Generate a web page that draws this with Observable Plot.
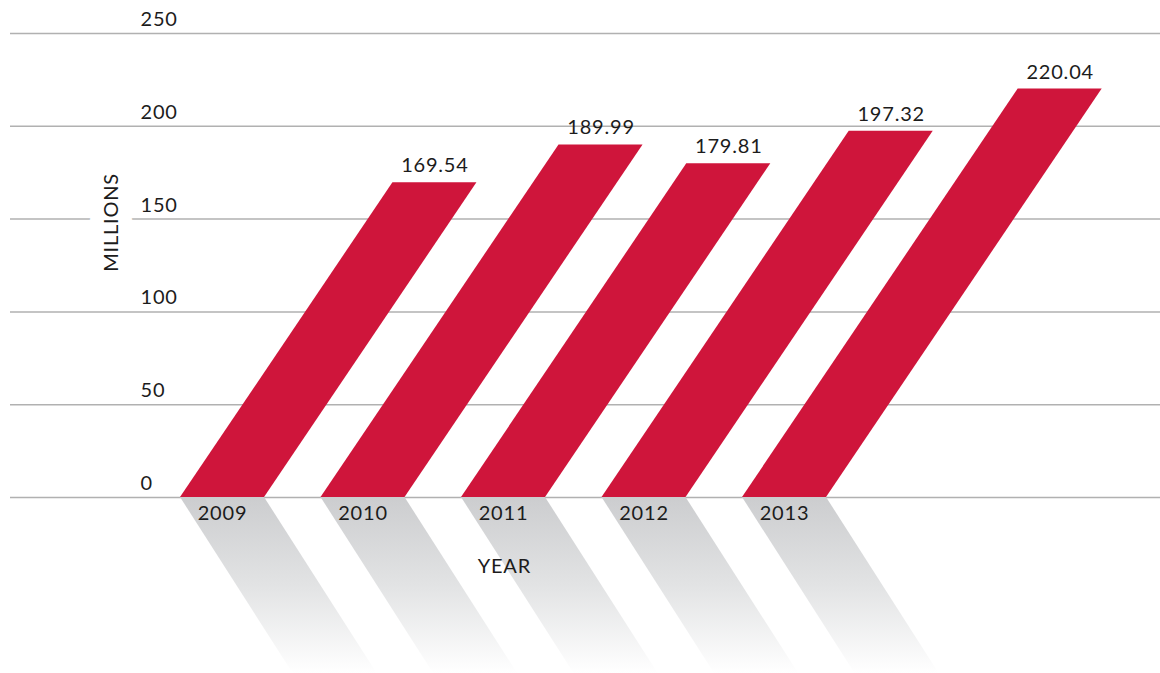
<!DOCTYPE html>
<html>
<head>
<meta charset="utf-8">
<script src="https://cdn.jsdelivr.net/npm/d3@7"></script>
<script src="https://cdn.jsdelivr.net/npm/@observablehq/plot@0.6"></script>
<style>
  body { margin: 0; background: #fff; }
  svg { display: block; }
</style>
</head>
<body>
<div id="chart"></div>
<script>
// ---- data ----
const years = ["2009", "2010", "2011", "2012", "2013"];
const revenue = [169.54, 189.99, 179.81, 197.32, 220.04];
const yTicks = [0, 50, 100, 150, 200, 250];

// ---- geometry (in scale units) ----
const BAR_W = 0.598;          // bar width in year slots
const SLANT = 0.008917;       // horizontal shift per unit of value
const SHADOW_DEPTH = -95;     // shadow reaches this far below baseline
const SHADOW_SLANT = 0.00845; // shadow shift per unit of depth

const bars = years.flatMap((year, i) => [
  {year, y: 0, x1: i, x2: i + BAR_W},
  {year, y: revenue[i], x1: i + SLANT * revenue[i], x2: i + BAR_W + SLANT * revenue[i]}
]);
const shadows = years.flatMap((year, i) => [
  {year, y: 0, x1: i, x2: i + BAR_W},
  {year, y: SHADOW_DEPTH, x1: i - SHADOW_SLANT * SHADOW_DEPTH, x2: i + BAR_W - SHADOW_SLANT * SHADOW_DEPTH}
]);
const tops = years.map((year, i) => ({year, value: revenue[i], x: i + BAR_W / 2 + SLANT * revenue[i]}));
const bottoms = years.map((year, i) => ({year, x: i + BAR_W / 2}));

const textColor = "#1c1c1c";

const chart = Plot.plot({
  width: 1160,
  height: 673,
  marginLeft: 10,
  marginRight: 0,
  marginTop: 33,
  marginBottom: 0,
  x: {domain: [-1.21, 6.9751], axis: null},
  y: {domain: [-94.83, 250], axis: null},
  style: {fontFamily: "Lato, 'Open Sans', sans-serif", fontSize: "20px", color: textColor, background: "#fff", overflow: "visible", letterSpacing: "0.8px"},
  marks: [
    Plot.ruleY(yTicks, {y: d => d, stroke: "#b1b1b1", strokeWidth: 1.5}),
    Plot.areaX(shadows, {y: "y", x1: "x1", x2: "x2", z: "year", fill: "url(#shadowFade)", curve: "linear"}),
    Plot.areaX(bars, {y: "y", x1: "x1", x2: "x2", z: "year", fill: "#cf153b", curve: "linear"}),
    Plot.text(yTicks, {y: d => d, frameAnchor: "left", dx: 130, dy: -14, text: d => String(d), textAnchor: "start", lineAnchor: "middle", fill: textColor, fontSize: 20}),
    Plot.text(tops, {x: "x", y: "value", text: d => d.value.toFixed(2), dy: -17, lineAnchor: "middle", fill: textColor, fontSize: 20}),
    Plot.text(bottoms, {x: "x", y: 0, text: "year", dy: 16, lineAnchor: "middle", fill: textColor, fontSize: 20}),
    Plot.text(["MILLIONS"], {x: -0.491, y: 148.2, rotate: -90, text: d => d, textAnchor: "middle", lineAnchor: "middle", fill: textColor, stroke: "#fff", strokeWidth: 28, strokeLinejoin: "round", fontSize: 20}),
    Plot.text(["YEAR"], {x: 2.305, y: -37.2, text: d => d, textAnchor: "middle", lineAnchor: "middle", fill: textColor, fontSize: 20})
  ]
});

const defs = d3.select(chart).insert("defs", ":first-child");
const grad = defs.append("linearGradient").attr("id", "shadowFade")
  .attr("x1", 0).attr("y1", 0).attr("x2", 0).attr("y2", 1);
grad.append("stop").attr("offset", "0%").attr("stop-color", "#cccdcf");
grad.append("stop").attr("offset", "50%").attr("stop-color", "#e2e3e4");
grad.append("stop").attr("offset", "100%").attr("stop-color", "#ffffff");

document.getElementById("chart").append(chart);
</script>
</body>
</html>
